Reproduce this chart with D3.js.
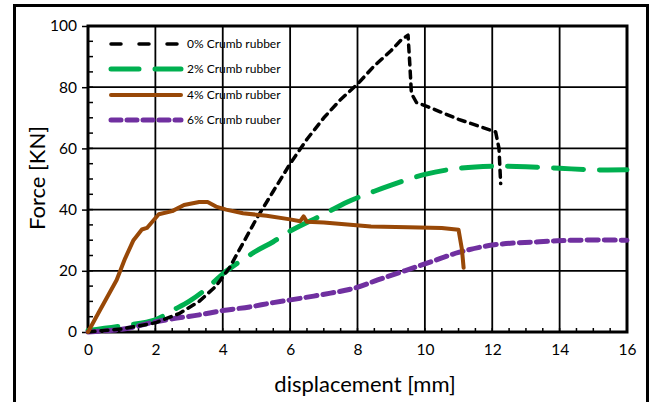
<!DOCTYPE html>
<html>
<head>
<meta charset="utf-8">
<script src="https://cdn.jsdelivr.net/npm/d3@7"></script>
<style>
  body { margin: 0; background: #fff; }
  svg { font-family: Lato, "Open Sans", sans-serif; }
</style>
</head>
<body>
<svg></svg>
<script>
// displacement [mm], force [KN]
const crumb0 = [[0,0],[1,1],[2,3],[2.7,6],[3.3,10],[3.8,15],[4.2,21],[4.6,29],[5,37],[5.5,46],[6,55],[6.5,63],[7,70],[7.5,76],[8,81],[8.5,87],[9,92],[9.3,95.5],[9.5,97],[9.55,88],[9.6,78],[9.75,75],[10,74],[11,69.5],[12.1,65.4],[12.2,60],[12.25,48.5]]
const crumb2 = [[0,0.5],[1,2],[2,4],[2.5,7],[3,10],[3.5,14],[4,19],[4.5,23],[5,26.5],[5.5,29.5],[6,33],[7,38.5],[7.7,42.5],[8.5,46],[9,48],[10,51.5],[11,53.5],[12,54.2],[13,54],[14,53.5],[15,53],[16,53]]
const crumb4 = [[0,0],[0.35,7],[0.6,12],[0.85,17],[1.1,24],[1.35,30],[1.6,33.5],[1.75,34],[2.1,38.5],[2.5,39.5],[2.85,41.5],[3.3,42.5],[3.55,42.5],[3.8,41],[4.1,40],[4.6,38.8],[5.3,38],[6,36.8],[6.3,36.2],[6.4,37.8],[6.5,36],[7,35.8],[8.4,34.5],[9.5,34.2],[10.5,34],[11,33.4],[11.1,27],[11.15,21]]
const crumb6 = [[0,0],[0.65,0.5],[1.2,1.2],[1.85,3],[2.5,4.3],[3.3,5.6],[4,7],[4.8,8.2],[5.5,9.6],[6.3,11],[7.2,12.7],[7.9,14.3],[8.6,17],[9.4,20],[10.2,23],[11,26],[12,28.4],[13.4,29.5],[14.5,30],[16,30]]

const seriesNames = ['0% Crumb rubber', '2% Crumb rubber', '4% Crumb rubber', '6% Crumb ruuber']
const seriesData = [crumb0, crumb2, crumb4, crumb6]
const seriesColors = ['#000000', '#00b050', '#984807', '#7030a0']
const seriesDash = ['7,6', '30,16', null, '11,6']
const seriesWidth = [3.5, 5, 4, 5]

const xTicks = [0, 2, 4, 6, 8, 10, 12, 14, 16]
const yTicks = [0, 20, 40, 60, 80, 100]

const width = 653
const height = 402

const svg = d3.select('svg')
  .attr('width', width)
  .attr('height', height)

// outer chart border
svg.append('rect')
  .attr('x', 14.5).attr('y', 5.5)
  .attr('width', 633).attr('height', 410)
  .attr('fill', 'none').attr('stroke', '#000').attr('stroke-width', 3)

const x = d3.scaleLinear().domain([0, 16]).range([88, 627])
const y = d3.scaleLinear().domain([0, 100]).range([332, 26])

const g = svg.append('g')

// grid
g.selectAll('.vgrid')
  .data(xTicks)
  .enter()
  .append('line')
  .attr('x1', d => x(d)).attr('x2', d => x(d))
  .attr('y1', y(0)).attr('y2', y(100))
  .attr('stroke', '#000').attr('stroke-width', 1.8)

g.selectAll('.hgrid')
  .data(yTicks)
  .enter()
  .append('line')
  .attr('x1', x(0)).attr('x2', x(16))
  .attr('y1', d => y(d)).attr('y2', d => y(d))
  .attr('stroke', '#000').attr('stroke-width', 1.8)

// minor ticks (inside)
g.selectAll('.xminor')
  .data(d3.range(0, 16.01, 0.5))
  .enter()
  .append('line')
  .attr('x1', d => x(d)).attr('x2', d => x(d))
  .attr('y1', y(0)).attr('y2', y(0) - 4)
  .attr('stroke', '#000').attr('stroke-width', 1.5)

g.selectAll('.yminor')
  .data(d3.range(0, 100.01, 5))
  .enter()
  .append('line')
  .attr('x1', x(0)).attr('x2', x(0) + 5)
  .attr('y1', d => y(d)).attr('y2', d => y(d))
  .attr('stroke', '#000').attr('stroke-width', 1.5)

// axes
const xAxis = g.append('g')
  .attr('transform', `translate(0,${y(0)})`)
  .call(d3.axisBottom(x).tickValues(xTicks).tickSize(0).tickPadding(12))
xAxis.select('.domain').remove()
xAxis.selectAll('text').attr('font-size', 15.5).attr('fill', '#000').attr('font-family', 'Lato, sans-serif')

const yAxis = g.append('g')
  .attr('transform', `translate(${x(0)},0)`)
  .call(d3.axisLeft(y).tickValues(yTicks).tickSize(6).tickPadding(5))
yAxis.select('.domain').remove()
yAxis.selectAll('line').attr('stroke-width', 1.5)
yAxis.selectAll('text').attr('font-size', 15.5).attr('fill', '#000').attr('font-family', 'Lato, sans-serif')

// plot frame
g.append('rect')
  .attr('x', x(0)).attr('y', y(100))
  .attr('width', x(16) - x(0)).attr('height', y(0) - y(100))
  .attr('fill', 'none').attr('stroke', '#000').attr('stroke-width', 3)

// series
const lineRaw = d3.line()
  .x(d => x(d[0]))
  .y(d => y(d[1]))

const lineSmooth = d3.line()
  .x(d => x(d[0]))
  .y(d => y(d[1]))
  .curve(d3.curveCatmullRom)

const order = [1, 3, 0, 2]
order.forEach(i => {
  g.append('path')
    .datum(seriesData[i])
    .attr('d', i === 0 || i === 2 ? lineRaw : lineSmooth)
    .attr('fill', 'none')
    .attr('stroke', seriesColors[i])
    .attr('stroke-width', seriesWidth[i])
    .attr('stroke-dasharray', seriesDash[i])
    .attr('stroke-linecap', 'round')
    .attr('stroke-linejoin', 'round')
})

// legend
const legendY = [44, 69, 95, 120]
const legend = g.selectAll('.legend')
  .data(seriesNames)
  .enter()
  .append('g')
  .attr('transform', (d, i) => `translate(0,${legendY[i]})`)

legend.append('line')
  .attr('x1', 111).attr('x2', 181)
  .attr('y1', 0).attr('y2', 0)
  .attr('stroke', (d, i) => seriesColors[i])
  .attr('stroke-width', (d, i) => seriesWidth[i])
  .attr('stroke-dasharray', (d, i) => ['10,18,10,18', '28,16', null, '10,6'][i])
  .attr('stroke-linecap', 'round')

legend.append('text')
  .attr('x', 187).attr('y', 0)
  .attr('dy', '0.35em')
  .attr('font-size', 12)
  .text(d => d)

// axis titles
svg.append('text')
  .attr('transform', `translate(45,178) rotate(-90)`)
  .attr('text-anchor', 'middle')
  .attr('font-size', 22)
  .text('Force [KN]')

svg.append('text')
  .attr('x', 365)
  .attr('y', 392)
  .attr('text-anchor', 'middle')
  .attr('font-size', 22)
  .text('displacement [mm]')
</script>
</body>
</html>
